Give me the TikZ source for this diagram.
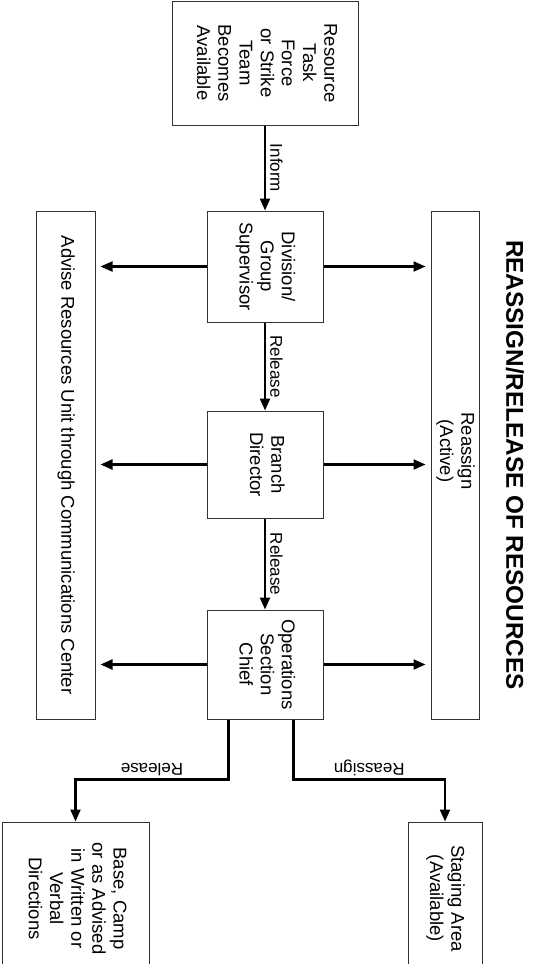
\documentclass[tikz,border=0pt]{standalone}
\usepackage{fontspec}
\setmainfont{Liberation Sans}
\usepackage{graphicx}
\usepackage{tikz}
\usetikzlibrary{arrows.meta}

% text set sideways, read from top to bottom
\newcommand{\vlines}[2][0pt]{\rotatebox{-90}{\begin{tabular}{@{}c@{}}#2\end{tabular}\hspace{#1}}}

\begin{document}
\begin{tikzpicture} [
	x=1pt, y=-1pt, % work in points, y pointing down the page
	every node/.style={font=\fontsize{17}{20.5}\selectfont, inner sep=0pt},
	box/.style={draw=black!80, line width=1pt, font=\fontsize{18.5}{21.2}\selectfont}, % the framed boxes
	arr/.style={line width=2.2pt, -{Triangle[length=12pt,width=10pt]}}, % thick connectors
	vlbl/.style={rotate=-90, anchor=south, inner sep=4pt}, % label beside a downward arrow
	ulbl/.style={rotate=180, anchor=north, inner sep=3pt}, % label over a flat run
	]
	\useasboundingbox (0,0) rectangle (538,964);
	\clip (0,0) rectangle (538,964);

	\node[box, minimum width=186pt, minimum height=124pt] (avail) at (265,63)
		{\vlines{Resource\\Task\\Force\\or Strike\\Team\\Becomes\\Available}};
	\node[box, minimum width=116pt, minimum height=111pt] (div) at (265,266.5)
		{\vlines{Division/\\Group\\Supervisor}};
	\node[box, minimum width=116pt, minimum height=107pt] (branch) at (265,464.5)
		{\vlines{Branch\\Director}};
	\node[box, minimum width=116pt, minimum height=109pt] (ops) at (265,664.5)
		{\vlines{Operations\\Section\\Chief}};

	\node[box, minimum width=59pt, minimum height=508pt] (advise) at (65.5,465)
		{\vlines{Advise Resources Unit through Communications Center}};
	\node[box, minimum width=48pt, minimum height=508pt] (active) at (455,465)
		{\vlines[28pt]{Reassign\\(Active)}};

	\node[box, minimum width=147pt, minimum height=153pt] (base) at (75.5,898.5)
		{\vlines{Base, Camp\\or as Advised\\in Written or\\Verbal\\Directions}};
	\node[box, minimum width=74pt, minimum height=153pt] (staging) at (445,898.5)
		{\vlines{Staging Area\\(Available)}};

	\node[font=\fontsize{24.3}{28}\selectfont\bfseries, rotate=-90] (title) at (515,465)
		{REASSIGN/RELEASE OF RESOURCES};

	% chain of command
	\draw[arr] (avail.south) -- node[vlbl] {Inform} (div.north);
	\draw[arr] (div.south) -- node[vlbl] {Release} (branch.north);
	\draw[arr] (branch.south) -- node[vlbl] {Release} (ops.north);

	% each level reports sideways
	\foreach \lvl in {div, branch, ops} {
		\draw[arr, shorten >=5pt] (\lvl.west) -- (\lvl.west -| advise.east);
		\draw[arr, shorten >=5pt] (\lvl.east) -- (\lvl.east -| active.west);
	}

	% out of the operations chief
	\draw[arr] ([xshift=22pt]ops.south west) -- ++(0,60)
		-| node[ulbl, pos=0.25] {Release} (base.north);
	\draw[arr] ([xshift=-30pt]ops.south east) -- ++(0,60)
		-| node[ulbl, pos=0.25] {Reassign} (staging.north);
\end{tikzpicture}
\end{document}
